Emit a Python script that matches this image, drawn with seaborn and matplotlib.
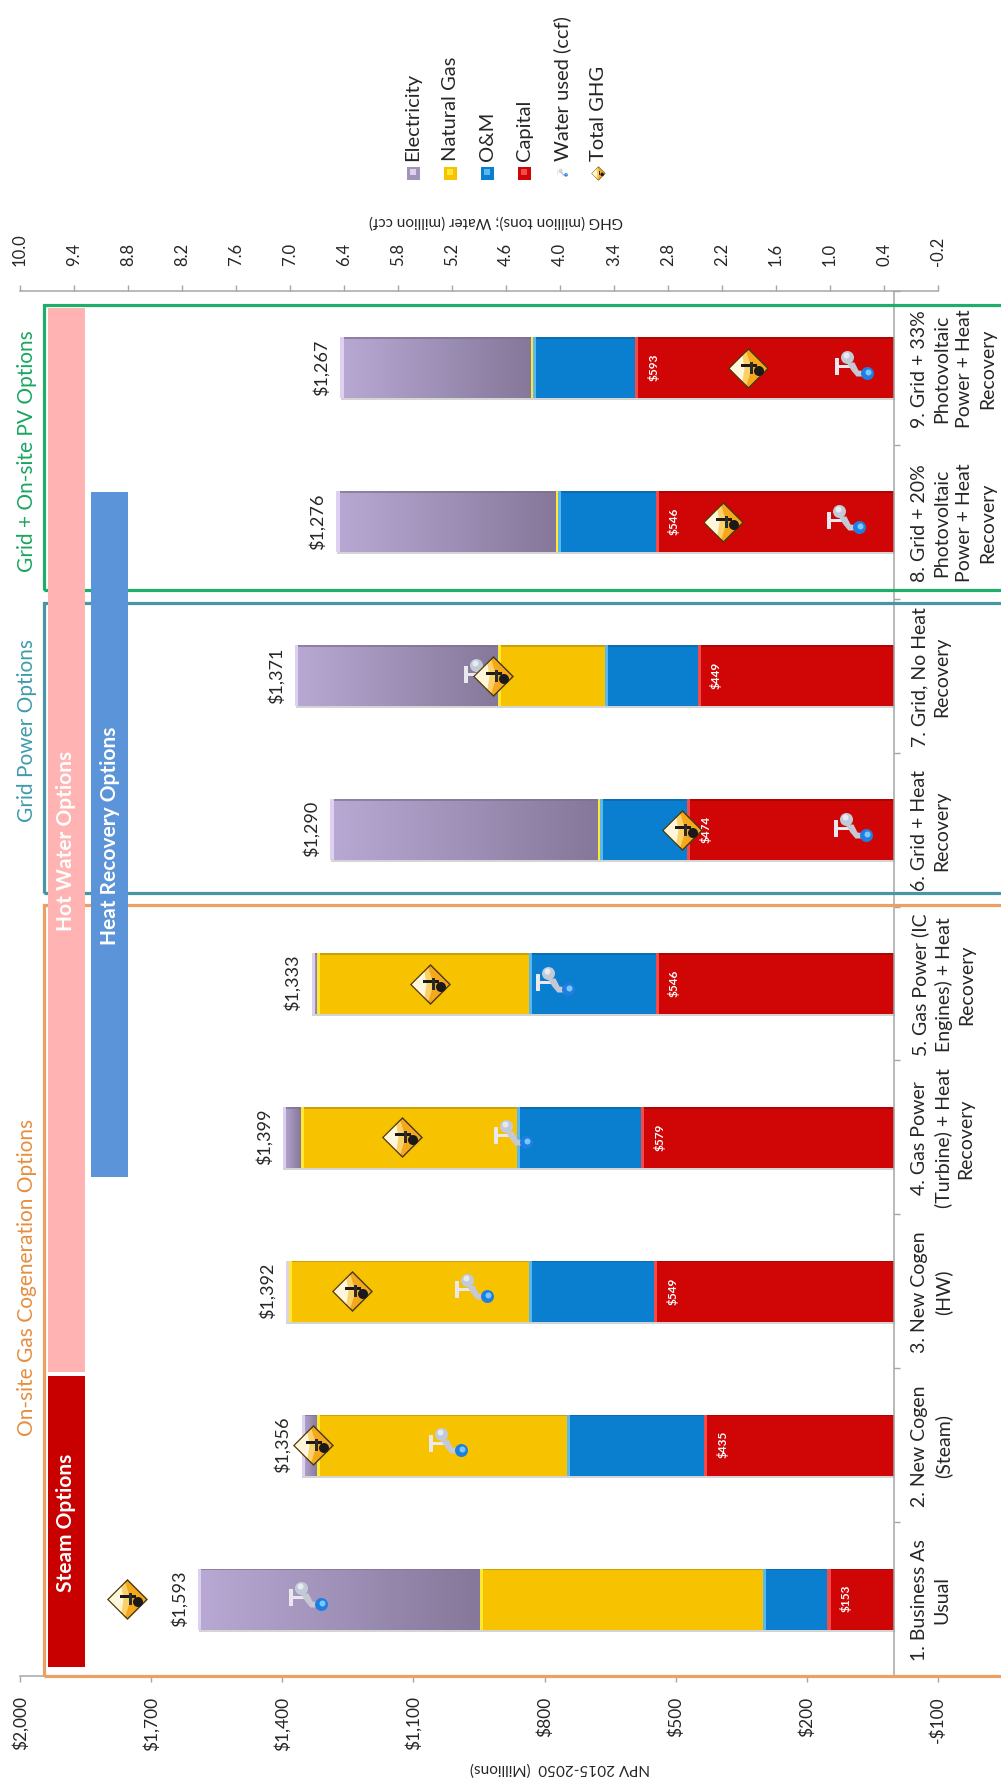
import numpy as np
import pandas as pd
import matplotlib
matplotlib.use("Agg")
from matplotlib import pyplot as plt
from matplotlib.lines import Line2D
from matplotlib.patches import Rectangle
from matplotlib.path import Path
from matplotlib.colors import LinearSegmentedColormap
import matplotlib.patheffects as pe
import seaborn as sns

# values
options = ["1. Business As\nUsual", "2. New Cogen\n(Steam)", "3. New Cogen\n(HW)",
           "4. Gas Power\n(Turbine) + Heat\nRecovery", "5. Gas Power (IC\nEngines) + Heat\nRecovery",
           "6. Grid + Heat\nRecovery", "7. Grid, No Heat\nRecovery",
           "8. Grid + 20%\nPhotovoltaic\nPower + Heat\nRecovery",
           "9. Grid + 33%\nPhotovoltaic\nPower + Heat\nRecovery"]
capital = [153, 435, 549, 579, 546, 474, 449, 546, 593]
om = [147, 314, 287, 284, 290, 199, 213, 224, 234]
gas = [648, 572, 549, 495, 484, 5, 244, 4, 5]
electricity = [645, 35, 7, 41, 13, 612, 465, 502, 435]
water = [6.80, 5.25, 4.96, 4.52, 4.06, 0.74, 4.86, 0.82, 0.73]
ghg = [8.81, 6.75, 6.31, 5.76, 5.45, 2.64, 4.74, 2.19, 1.91]
npv_ticks = [2000, 1700, 1400, 1100, 800, 500, 200, -100]
npv_labels = ["$2,000", "$1,700", "$1,400", "$1,100", "$800", "$500", "$200", "-$100"]
ghg_ticks = [10.0, 9.4, 8.8, 8.2, 7.6, 7.0, 6.4, 5.8, 5.2, 4.6, 4.0, 3.4, 2.8, 2.2, 1.6, 1.0, 0.4, -0.2]
legend_names = ["Electricity", "Natural Gas", "O&M", "Capital", "Water used (ccf)", "Total GHG"]

sns.set_style("white")
plt.rcParams["font.family"] = ["Lato", "DejaVu Sans"]

W, H = 1001, 1783
fx = lambda x: x / W
fy = lambda y: 1 - y / H

PURPLE, YELLOW, BLUE, RED = "#a294b8", "#f7c200", "#0b7fcf", "#d00606"
GREY, TXT = "#a6a6a6", "#262626"

df = pd.DataFrame({"option": options, "capital": capital, "om": om, "gas": gas, "electricity": electricity})
df["to_capital"] = df["capital"]
df["to_om"] = df["to_capital"] + df["om"]
df["to_gas"] = df["to_om"] + df["gas"]
df["total"] = df["to_gas"] + df["electricity"]

fig = plt.figure(figsize=(W / 100, H / 100), dpi=100)
ax = fig.add_axes([fx(20), fy(1677), fx(938) - fx(20), fy(292) - fy(1677)])

# stacked bars, longest first
layers = [("total", PURPLE), ("to_gas", YELLOW), ("to_om", BLUE), ("to_capital", RED)]
for col, c in layers:
    sns.barplot(data=df, x=col, y="option", color=c, saturation=1, width=0.396,
                errorbar=None, orient="h", linewidth=0, ax=ax)
ax.set_xlim(2000, -100)
ax.set_ylim(-0.5, 8.5)
ax.set_xlabel("")
ax.set_ylabel("")

# purple gradient and bevel edges on the bars
px_x = 918 / 2100
px_y = 1385 / 9
cmap = LinearSegmentedColormap.from_list("elec", ["#b8a9d4", "#85789a"])
bevel = ["#ddd0f0", "#ffe930", "#58b8ef", "#f44a4a"]
dark = ["#7d7190", "#b8930c", "#0a65a8", "#9c0505"]
floors = [df["to_gas"], df["to_om"], df["to_capital"], 0 * df["capital"]]
for k, cont in enumerate(list(ax.containers)):
    for i, p in enumerate(cont.patches):
        hi = p.get_x() + p.get_width()
        lo = float(floors[k][i])
        y0 = p.get_y()
        h = p.get_height()
        if k == 0:
            p.set_path_effects([pe.SimplePatchShadow(offset=(0.5, -1.5), alpha=0.25, shadow_rgbFace="#555555"), pe.Normal()])
            im = ax.imshow(np.linspace(0, 1, 64).reshape(1, -1), extent=(hi, lo, y0, y0 + h), cmap=cmap,
                           aspect="auto", zorder=1.5, interpolation="bilinear")
            im.set_clip_path(p)
        ax.barh(y0 + h - 0.5 * 1.6 / px_y, hi - lo, left=lo, height=1.6 / px_y, color=dark[k], alpha=0.7,
                linewidth=0, zorder=2)
        ax.barh(y0 + h / 2, min(3.2 / px_x, hi - lo), left=hi - min(3.2 / px_x, hi - lo), height=h, color=bevel[k],
                linewidth=0, zorder=2.2)
ax.set_xlim(2000, -100)
ax.set_ylim(-0.5, 8.5)

# totals and capital labels
for i, row in df.iterrows():
    ax.annotate(f"${row['total']:,}", (row["total"], i), xytext=(-7.5, 1), textcoords="offset points",
                rotation=90, ha="right", va="center", fontsize=13, color=TXT, zorder=4)
    ax.annotate(f"${row['capital']}", (row["capital"], i), xytext=(13, 1), textcoords="offset points",
                rotation=90, ha="center", va="center", fontsize=8.5, fontweight="bold", color="white", zorder=4)

# axes
sns.despine(ax=ax, top=True, left=True, right=False, bottom=False)
ax.spines["right"].set_position(("data", 0))
for s in ("right", "bottom"):
    ax.spines[s].set_color(GREY)
    ax.spines[s].set_linewidth(1.1)
ax.set_xticks(npv_ticks, labels=npv_labels)
ax.tick_params(axis="x", bottom=True, length=4, width=1, color=GREY, labelrotation=90, pad=10,
               labelsize=12.5, labelcolor=TXT)
ax.yaxis.tick_right()
ax.set_yticks(np.arange(-0.5, 9), labels=[""] * 10)
ax.set_yticks(np.arange(9), labels=options, minor=True)
ax.tick_params(axis="y", which="major", right=True, length=4, width=1, color=GREY)
ax.tick_params(axis="y", which="minor", right=False, length=0, pad=12, labelsize=14, labelcolor=TXT)
for t in ax.get_yticklabels(minor=True):
    t.set_rotation(90)
    t.set_ha("left")
    t.set_va("center")
    t.set_multialignment("center")
    t.set_linespacing(1.4)

ax2 = ax.twiny()
ax2.set_xlim(10, -0.2)
sns.despine(ax=ax2, top=False, left=True, right=True, bottom=True)
ax2.spines["top"].set_color(GREY)
ax2.spines["top"].set_linewidth(1.1)
ax2.set_xticks(ghg_ticks, labels=[f"{v:.1f}" for v in ghg_ticks])
ax2.tick_params(axis="x", top=True, length=4, width=1, color=GREY, labelrotation=90, pad=15,
                labelsize=12, labelcolor=TXT)


# icon layers share one scale: a bare moveto at the corner fixes it
R = 24.0


def poly(pts):
    v = [(R, R)] + pts + [pts[0]]
    c = [Path.MOVETO, Path.MOVETO] + [Path.LINETO] * (len(pts) - 1) + [Path.CLOSEPOLY]
    return Path(v, c)


def circ(cx, cy, r):
    return Path.make_compound_path(Path([(R, R)], [Path.MOVETO]), Path.circle((cx, cy), r))


tap_layers = [
    (poly([(-19, -7), (-15, -7), (-15, 0.5), (-3, 0.5), (-3, 3.5), (-15, 3.5), (-15, 10), (-19, 10)]), "#e8e8ee"),
    (poly([(-8, 6), (0, 6), (4, -2), (12, -3), (12, -8), (2, -8), (-3, -2)]), "#c6c8d4"),
    (circ(-7, 11, 6.5), "#c2cad8"),
    (circ(-8, 13, 3), "#e6ebf2"),
    (circ(13, -5, 6.5), "#1f7fe0"),
    (circ(14, -4, 3), "#79c8ff"),
]
ghg_layers = [
    (poly([(-20.5, 0), (0, 20.5), (20.5, 0), (0, -20.5)]), "#4a3a10"),
    (poly([(-18.5, 0), (0, 18.5), (18.5, 0), (0, -18.5)]), "#f5a81c"),
    (poly([(-18.5, 0), (-2, 16.5), (3, 0), (-2, -16.5)]), "#fbd26a"),
    (poly([(-18.5, 0), (-6, 12.5), (-4, 0), (-6, -12.5)]), "#fff6dc"),
    (poly([(-7, 1.5), (9, 1.5), (9, 4), (-7, 4)]), "#1a1a1a"),
    (poly([(2, -6), (4.5, -6), (4.5, 6), (2, 6)]), "#2a2a2a"),
    (circ(10.5, -2.5, 5), "#1a1a1a"),
]
rows = np.arange(len(options))
for path, c in tap_layers:
    sns.scatterplot(x=water, y=rows, marker=path, s=(2 * R * 0.72) ** 2, color=c, linewidth=0,
                    zorder=3, legend=False, ax=ax2)
for path, c in ghg_layers:
    sns.scatterplot(x=ghg, y=rows, marker=path, s=(2 * R * 0.72) ** 2, color=c, linewidth=0,
                    zorder=3.5, legend=False, ax=ax2)
ax2.set_xlim(10, -0.2)
ax2.set_xlabel("")
ax2.set_ylabel("")
ax.set_ylim(-0.5, 8.5)

# axis titles, upside down like the source
fig.text(fx(560), fy(1768), "NPV 2015-2050  (Millions)", rotation=180, ha="center", va="center", fontsize=11, color=TXT)
fig.text(fx(496), fy(221), "GHG (million tons); Water (million ccf)", rotation=180, ha="center", va="center",
         fontsize=11, color=TXT)


def frame(top, bottom, c):
    fig.add_artist(Rectangle((fx(44), fy(bottom)), fx(1040) - fx(44), fy(top) - fy(bottom), transform=fig.transFigure,
                             fill=False, ec=c, lw=2.3, zorder=5))


def band(x0, x1, top, bottom, c, label):
    fig.add_artist(Rectangle((fx(x0), fy(bottom)), fx(x1) - fx(x0), fy(top) - fy(bottom), transform=fig.transFigure,
                             fc=c, ec="none", zorder=6))
    fig.text(fx((x0 + x1) / 2), fy((top + bottom) / 2), label, rotation=90, ha="center", va="center",
             fontsize=15, fontweight="bold", color="white", zorder=7)


frame(906, 1677, "#ee9f63")
frame(604, 894, "#4a94a8")
frame(306, 591, "#1fae68")
band(48, 85, 309, 1373, "#ffb3b3", "Hot Water Options")
band(48, 85, 1377, 1668, "#c80000", "Steam Options")
band(91, 128, 493, 1178, "#5b94d8", "Heat Recovery Options")
for y, label, c in [(1277, "On-site Gas Cogeneration Options", "#e58e3f"),
                    (730, "Grid Power Options", "#3f9bab"),
                    (451, "Grid + On-site PV Options", "#19a560")]:
    fig.text(fx(27), fy(y), label, rotation=90, ha="center", va="center", fontsize=15, color=c)

# legend, rotated with the rest of the chart
leg_x = [413, 450, 487, 524, 562, 598]
swatches = [(PURPLE, "#ddd0f0"), (YELLOW, "#ffe930"), (BLUE, "#58b8ef"), (RED, "#f44a4a")]
for x, name in zip(leg_x, legend_names):
    fig.text(fx(x), fy(161), name, rotation=90, ha="center", va="bottom", fontsize=14.5, color=TXT)
for x, (c, c2) in zip(leg_x, swatches):
    fig.add_artist(Rectangle((fx(x - 6.5), fy(181)), 13 / W, 13 / H, transform=fig.transFigure, fc=c, ec="none"))
    fig.add_artist(Rectangle((fx(x - 3), fy(176)), 6 / W, 6 / H, transform=fig.transFigure, fc=c2, ec="none"))
for path, c in tap_layers:
    fig.add_artist(Line2D([fx(leg_x[4])], [fy(174)], marker=path, ms=9.5, mfc=c, mew=0, ls="none", transform=fig.transFigure))
for path, c in ghg_layers:
    fig.add_artist(Line2D([fx(leg_x[5])], [fy(174)], marker=path, ms=12, mfc=c, mew=0, ls="none", transform=fig.transFigure))

fig.savefig("out.png", dpi=100)
